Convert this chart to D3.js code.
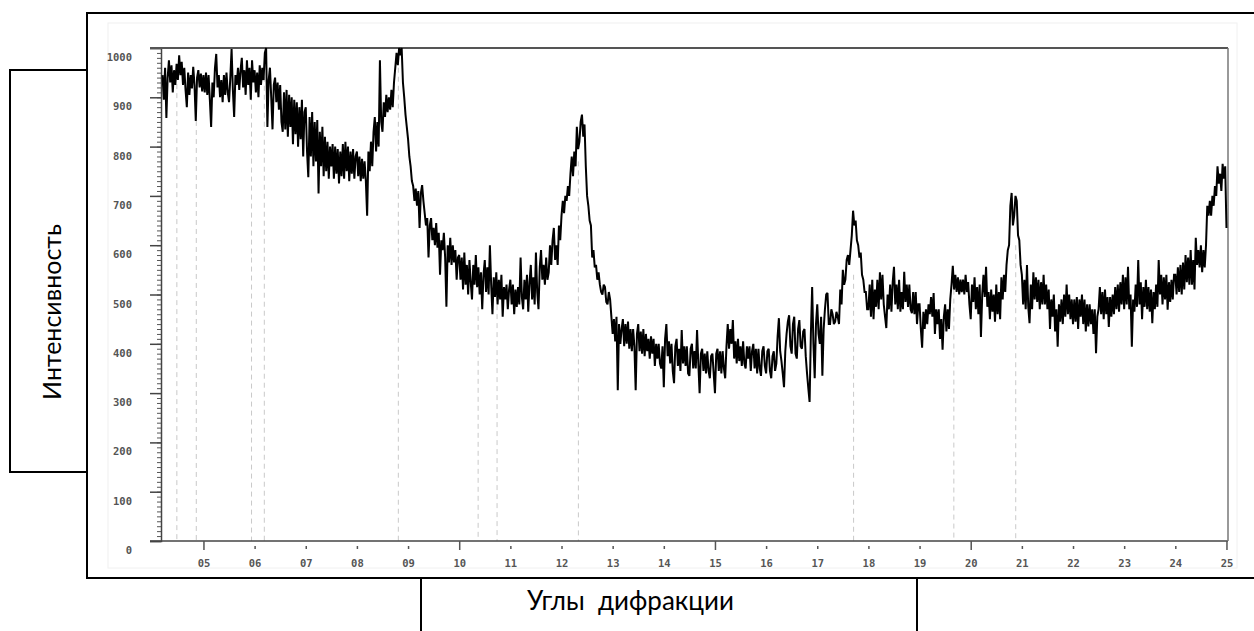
<!DOCTYPE html>
<html><head><meta charset="utf-8">
<script src="https://cdn.jsdelivr.net/npm/d3@7/dist/d3.min.js"></script>
<style>body{margin:0;background:#fff}svg{display:block}</style>
</head><body>
<svg id="chart" width="1254" height="631"></svg>
<script>
// ---- data ----
const angleStart = 4.20;   // first sample, degrees 2θ
const angleStep = 0.025;   // sampling step, degrees
const intensity = [
  // 4.200 – 4.975
  945, 895, 960, 858, 940, 975, 930, 965, 910, 955, 925, 968, 935, 985, 945, 972,
  925, 960, 915, 880, 950, 905, 945, 918, 962, 925, 852, 940, 955, 920, 948, 912,
  // 5
  945, 910, 950, 905, 945, 895, 840, 930, 900, 960, 988, 920, 945, 900, 935, 890, 945, 905, 950, 910,
  890, 940, 998, 915, 860, 945, 925, 960, 915, 955, 980, 920, 955, 905, 975, 925, 960, 895, 975, 930,
  // 6
  955, 910, 950, 900, 965, 925, 960, 935, 990, 1000, 840, 935, 960, 900, 835, 925, 940, 890, 930, 875,
  925, 850, 830, 910, 835, 915, 820, 905, 840, 900, 805, 895, 825, 890, 800, 880, 815, 895, 780, 870,
  // 7
  880, 790, 738, 860, 780, 870, 760, 850, 770, 854, 705, 830, 760, 840, 740, 820, 750, 810, 735, 800,
  760, 805, 735, 800, 745, 795, 725, 790, 740, 805, 735, 810, 750, 800, 730, 790, 745, 795, 735, 780,
  // 8
  790, 740, 780, 730, 775, 735, 770, 730, 660, 790, 750, 810, 760, 830, 860, 790, 850, 800, 975, 850,
  830, 890, 860, 905, 870, 900, 875, 915, 880, 930, 960, 990, 965, 1000, 985, 1000, 930, 900, 865, 840,
  // 9
  815, 780, 760, 730, 720, 690, 715, 680, 710, 635, 705, 722, 690, 665, 640, 655, 575, 640, 655, 610,
  635, 600, 645, 595, 625, 540, 610, 590, 625, 575, 475, 600, 565, 615, 560, 600, 565, 590, 530, 575,
  // 10
  580, 530, 575, 510, 585, 520, 560, 500, 570, 525, 490, 560, 520, 580, 515, 555, 500, 545, 470, 540,
  570, 505, 555, 500, 600, 520, 460, 535, 495, 545, 480, 530, 490, 540, 455, 515, 490, 520, 470, 510,
  // 11
  530, 480, 520, 460, 510, 475, 515, 480, 575, 495, 470, 530, 490, 540, 465, 525, 560, 490, 535, 480,
  585, 505, 470, 555, 590, 530, 560, 520, 575, 530, 545, 600, 560, 610, 635, 570, 600, 560, 640, 610,
  // 12
  660, 690, 665, 700, 690, 720, 700, 745, 780, 740, 790, 760, 840, 795, 810, 850, 865, 820, 845, 760,
  700, 680, 650, 640, 575, 590, 555, 560, 530, 545, 520, 505, 500, 520, 515, 485, 480, 505, 490, 455,
  // 13
  420, 450, 405, 455, 306, 440, 400, 430, 450, 395, 440, 400, 445, 390, 430, 385, 430, 395, 306, 420,
  440, 385, 425, 380, 430, 375, 420, 385, 410, 370, 415, 380, 410, 355, 400, 370, 400, 360, 350, 395,
  // 14
  312, 410, 440, 375, 405, 360, 400, 345, 320, 395, 410, 355, 390, 345, 428, 360, 395, 355, 395, 340,
  335, 390, 400, 350, 385, 350, 428, 360, 300, 380, 390, 345, 380, 340, 385, 345, 330, 375, 380, 340,
  // 15
  300, 380, 390, 345, 385, 340, 385, 350, 330, 395, 440, 390, 430, 400, 448, 370, 405, 360, 410, 365,
  395, 355, 405, 360, 350, 395, 370, 395, 345, 385, 400, 350, 390, 340, 390, 350, 335, 385, 395, 355,
  // 16
  340, 385, 390, 345, 330, 375, 385, 345, 360, 415, 452, 385, 365, 340, 312, 385, 420, 445, 458, 395,
  380, 440, 455, 380, 370, 430, 448, 395, 390, 425, 430, 375, 340, 310, 282, 420, 515, 400, 330, 440,
  // 17
  480, 420, 400, 455, 335, 430, 470, 500, 503, 440, 440, 470, 460, 440, 445, 465, 455, 440, 510, 480,
  550, 520, 530, 570, 580, 560, 590, 620, 670, 640, 650, 610, 600, 575, 585, 540, 530, 505, 505, 470,
  // 18
  470, 520, 455, 530, 450, 510, 475, 530, 470, 545, 490, 540, 480, 455, 432, 500, 470, 520, 465, 525,
  556, 480, 520, 470, 530, 465, 505, 470, 546, 485, 520, 475, 520, 470, 462, 505, 460, 505, 440, 480,
  // 19
  480, 430, 392, 465, 430, 470, 440, 480, 460, 495, 455, 503, 420, 470, 440, 470, 410, 450, 388, 455,
  480, 425, 470, 430, 490, 520, 558, 510, 540, 505, 535, 500, 530, 505, 530, 500, 540, 505, 525, 480,
  // 20
  450, 520, 485, 535, 470, 515, 460, 520, 414, 500, 540, 495, 556, 475, 505, 450, 510, 465, 500, 445,
  520, 460, 505, 450, 535, 490, 540, 505, 560, 590, 600, 680, 706, 640, 660, 700, 690, 620, 610, 560,
  // 21
  540, 480, 530, 470, 560, 475, 442, 520, 470, 545, 490, 535, 485, 530, 470, 525, 480, 540, 480, 520,
  470, 510, 430, 490, 455, 500, 425, 470, 394, 480, 445, 490, 440, 500, 455, 520, 460, 500, 450, 490,
  // 22
  440, 490, 445, 495, 430, 490, 455, 500, 440, 490, 425, 480, 435, 480, 440, 470, 420, 470, 381, 455,
  470, 515, 460, 505, 450, 510, 460, 495, 434, 495, 455, 500, 460, 515, 470, 520, 465, 525, 480, 540,
  // 23
  470, 535, 480, 556, 470, 500, 394, 490, 465, 520, 475, 570, 480, 525, 450, 515, 475, 530, 470, 515,
  465, 510, 442, 505, 470, 520, 475, 570, 500, 540, 480, 535, 490, 540, 469, 525, 485, 530, 490, 540,
  // 24
  540, 500, 555, 505, 560, 500, 565, 510, 580, 525, 575, 520, 590, 520, 570, 510, 615, 560, 590, 555,
  600, 545, 590, 555, 600, 680, 660, 690, 660, 700, 680, 720, 700, 760, 725, 745, 710, 765, 735, 760,
  // 25
  635
];
const xTicks = [5, 6, 7, 8, 9, 10, 11, 12, 13, 14, 15, 16, 17, 18, 19, 20, 21, 22, 23, 24, 25];
const xTickLabels = ["05", "06", "07", "08", "09", "10", "11", "12", "13", "14", "15", "16", "17", "18", "19", "20", "21", "22", "23", "24", "25"];
const xMajorTicks = [5, 10, 15, 20, 25];
const yTicks = [0, 100, 200, 300, 400, 500, 600, 700, 800, 900, 1000];
const yTickLabels = ["0", "100", "200", "300", "400", "500", "600", "700", "800", "900", "1000"];
const peakAngles = [4.48, 4.86, 5.94, 6.19, 8.81, 10.37, 10.74, 12.33, 17.71, 19.67, 20.88];
const peakIntensity = [945, 925, 940, 960, 960, 475, 515, 770, 540, 510, 600];
const yTitle = "Интенсивность";
const xTitle = "Углы  дифракции";

// ---- drawing ----
const svg = d3.select("#chart");
const x = d3.scaleLinear().domain([4.17, 25.03]).range([161, 1228]);
const y = d3.scaleLinear().domain([0, 1000]).range([541, 48]);

// outer frame
svg.append("rect").attr("x", 87).attr("y", 13).attr("width", 1200).attr("height", 565)
  .attr("fill", "none").attr("stroke", "#000").attr("stroke-width", 2);
// faint chart background border
svg.append("rect").attr("x", 108).attr("y", 23).attr("width", 1129).attr("height", 545)
  .attr("fill", "none").attr("stroke", "#f0f0f0").attr("stroke-width", 1);

// y-title box
svg.append("rect").attr("x", 10).attr("y", 70).attr("width", 77).attr("height", 402)
  .attr("fill", "#fff").attr("stroke", "#000").attr("stroke-width", 2);
svg.append("text").attr("transform", "translate(61,312) rotate(-90)")
  .attr("text-anchor", "middle").attr("font-family", "Lato, 'Open Sans', sans-serif")
  .attr("font-size", 25).attr("fill", "#000").text(yTitle);

// x-title box
svg.append("rect").attr("x", 421).attr("y", 578).attr("width", 496).attr("height", 80)
  .attr("fill", "#fff").attr("stroke", "#000").attr("stroke-width", 2);
svg.append("text").attr("x", 527).attr("y", 610)
  .attr("font-family", "Lato, 'Open Sans', sans-serif")
  .attr("font-size", 26).attr("fill", "#000").style("white-space", "pre").text(xTitle);

// clip
svg.append("clipPath").attr("id", "plotclip").append("rect")
  .attr("x", 161).attr("y", 46).attr("width", 1068).attr("height", 496);

// peak markers
svg.append("g").selectAll("line").data(peakAngles).join("line")
  .attr("x1", d => x(d)).attr("x2", d => x(d))
  .attr("y1", (d, i) => y(peakIntensity[i])).attr("y2", y(0))
  .attr("stroke", "#c9c9c9").attr("stroke-width", 1).attr("stroke-dasharray", "5,4");

// y axis minor ticks
svg.append("g").attr("transform", "translate(161,0)")
  .call(d3.axisLeft(y).ticks(100).tickSize(4).tickFormat(""))
  .call(g => g.select(".domain").remove())
  .call(g => g.selectAll("line").attr("stroke", "#555"));
// y axis
svg.append("g").attr("transform", "translate(161,0)")
  .call(d3.axisLeft(y).tickValues(yTicks).tickSize(11).tickPadding(18)
    .tickFormat((d, i) => yTickLabels[i]))
  .call(g => g.select(".domain").attr("stroke", "#444").attr("stroke-width", 1.5))
  .call(g => g.selectAll("line").attr("stroke", "#444").attr("stroke-width", 1.5))
  .call(g => g.selectAll("text").attr("dy", "1.2em").attr("fill", "#555")
    .attr("font-family", "'DejaVu Sans Mono', monospace").attr("font-size", 10.5).attr("font-weight", "bold"));

// x axis
svg.append("g").attr("transform", "translate(0,541)")
  .call(d3.axisBottom(x).tickValues(xTicks).tickSize(9).tickPadding(10)
    .tickFormat((d, i) => xTickLabels[i]))
  .call(g => g.select(".domain").attr("stroke", "#444").attr("stroke-width", 1.5)
    .attr("d", "M150,0H1228"))
  .call(g => g.selectAll(".tick line")
    .attr("stroke", "#555").attr("stroke-width", 1.5)
    .attr("y1", d => xMajorTicks.includes(d) ? 0 : 5)
    .attr("y2", d => xMajorTicks.includes(d) ? 9 : 8))
  .call(g => g.selectAll("text").attr("fill", "#555")
    .attr("font-family", "'DejaVu Sans Mono', monospace").attr("font-size", 10.5).attr("font-weight", "bold"));

// top and right plot borders
svg.append("line").attr("x1", 150).attr("x2", 1228).attr("y1", y(1000)).attr("y2", y(1000))
  .attr("stroke", "#555").attr("stroke-width", 2);
svg.append("line").attr("x1", 1228).attr("x2", 1228).attr("y1", y(1000)).attr("y2", y(0))
  .attr("stroke", "#777").attr("stroke-width", 1.5);

// curve
const line = d3.line()
  .x((d, i) => x(angleStart + i * angleStep))
  .y(d => y(d));
svg.append("path").datum(intensity)
  .attr("clip-path", "url(#plotclip)")
  .attr("fill", "none").attr("stroke", "#000").attr("stroke-width", 2)
  .attr("stroke-linejoin", "miter").attr("stroke-miterlimit", 2).attr("d", line);
</script>
</body></html>
